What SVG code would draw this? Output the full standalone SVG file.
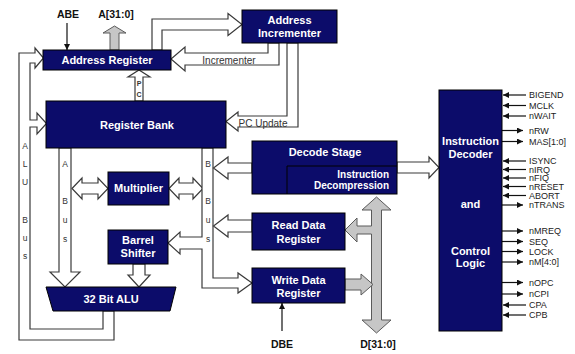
<svg xmlns="http://www.w3.org/2000/svg" width="575" height="354" viewBox="0 0 575 354">
  <style>
    .box { fill: #0c0c6a; stroke: #000; stroke-width: 1; }
    .t { font-family: "Liberation Sans", Arial, sans-serif; font-weight: bold; fill: #fff; text-anchor: middle; font-size: 11px; }
    .ts { font-size: 10px; }
    .hollow { fill: #fff; stroke: #3a3a3a; stroke-width: 1.2; }
    .data { fill: #c6c6c6; stroke: #5a5a5a; stroke-width: 1; }
    .sig { stroke: #111; stroke-width: 1.2; fill: none; }
    .lbl { font-family: "Liberation Sans", Arial, sans-serif; font-size: 9px; fill: #222; }
    .bus { font-family: "Liberation Sans", Arial, sans-serif; font-size: 8.5px; fill: #333; text-anchor: middle; }
    .pin { font-family: "Liberation Sans", Arial, sans-serif; font-size: 10.5px; font-weight: bold; fill: #111; text-anchor: middle; }
    .arl { font-family: "Liberation Sans", Arial, sans-serif; font-size: 10px; fill: #333; text-anchor: middle; }
  </style>
  <defs>
    <marker id="ah" viewBox="0 0 6 6" refX="6" refY="3" markerWidth="6" markerHeight="6" orient="auto" markerUnits="userSpaceOnUse">
      <path d="M0,0 L6,3 L0,6 z" fill="#111"/>
    </marker>
  </defs>
  <rect width="575" height="354" fill="#fff"/>

  <g id="connectors">
    <!-- address register to incrementer -->
    <polygon class="hollow" points="152,50 152,19 228,19 228,13.5 242,24.5 228,35.5 228,30 162,30 162,50"/>
    <!-- incrementer back to address register -->
    <polygon class="hollow" points="268,43 268,53 185,53 185,47 171,59 185,71 185,65 279,65 279,43"/>
    <text class="arl" x="229" y="63.5">Incrementer</text>
    <!-- PC update into register bank -->
    <polygon class="hollow" points="287,43 287,116 238,116 238,112 226,121.5 238,131 238,127 298,127 298,43"/>
    <text class="arl" x="263" y="126.5">PC Update</text>
    <!-- PC path -->
    <polygon class="hollow" points="135,101 135,77 128,77 139,70 150,77 143,77 143,101"/>
    <text class="bus" style="font-size:7px;font-weight:bold" x="139" y="86">P</text>
    <text class="bus" style="font-size:7px;font-weight:bold" x="139" y="96.5">C</text>
    <!-- address out -->
    <polygon class="data" points="110,50 110,33 103,33 114.5,26 126,33 119,33 119,50"/>
    <!-- ABE -->
    <line class="sig" x1="67" y1="23" x2="67" y2="50" marker-end="url(#ah)"/>
    <!-- ALU bus -->
    <polygon class="hollow" points="114,311 114,340 19,340 19,53 35,53 35,48 43.5,58 35,68 35,63 30,63 30,120 37,120 37,113 46.5,123.5 37,134 37,127 30,127 30,329 103,329 103,311"/>
    <text class="bus" x="25" y="148.5">A</text>
    <text class="bus" x="25" y="167">L</text>
    <text class="bus" x="25" y="185">U</text>
    <text class="bus" x="25" y="223">B</text>
    <text class="bus" x="25" y="241">u</text>
    <text class="bus" x="25" y="259">s</text>
    <!-- A bus -->
    <polygon class="hollow" points="59,148 59,272 50,272 65,287 80,272 71,272 71,148"/>
    <text class="bus" x="65" y="167">A</text>
    <text class="bus" x="65" y="204">B</text>
    <text class="bus" x="65" y="223">u</text>
    <text class="bus" x="65" y="242">s</text>
    <!-- multiplier links -->
    <polygon class="hollow" points="72,188.5 82,178 82,183 98,183 98,178 108,188.5 98,199 98,194 82,194 82,199"/>
    <polygon class="hollow" points="169,188.5 179,178 179,183 193,183 193,178 203,188.5 193,199 193,194 179,194 179,199"/>
    <!-- B bus with branches to barrel shifter and write data register -->
    <polygon class="hollow" points="202,148 202,237 180,237 180,232 168,243 180,254 180,249 202,249 202,288 238,288 238,293 252,283 238,273 238,278 213,278 213,148"/>
    <text class="bus" x="208" y="167">B</text>
    <text class="bus" x="208" y="204">B</text>
    <text class="bus" x="208" y="223">u</text>
    <text class="bus" x="208" y="242">s</text>
    <!-- decode stage and read data onto B bus -->
    <polygon class="hollow" points="252,163 228,163 228,157 213.5,168 228,179 228,173 252,173"/>
    <polygon class="hollow" points="252,220 228,220 228,215 213.5,226 228,237 228,232 252,232"/>
    <!-- barrel shifter into ALU -->
    <polygon class="hollow" points="133,264 133,275 128,275 139,287 150,275 145,275 145,264"/>
    <!-- decode stage to instruction decoder -->
    <polygon class="hollow" points="397,162 429,162 429,157 439,167.5 429,178 429,173 397,173"/>
    <!-- data bus -->
    <polygon class="data" points="376.5,197 391,210 381.5,210 381.5,320 391,320 376.5,333 362,320 371.5,320 371.5,234 357,234 357,242 345,230 357,218 357,226 371.5,226 371.5,210 362,210"/>
    <polygon class="data" points="345,279 361,279 361,274 373,284.5 361,295 361,290 345,290"/>
    <!-- DBE -->
    <line class="sig" x1="282" y1="331" x2="282" y2="303" marker-end="url(#ah)"/>
    <!-- control signals -->
    <g class="sig">
      <line x1="526" y1="95" x2="503" y2="95" marker-end="url(#ah)"/>
      <line x1="526" y1="105.5" x2="503" y2="105.5" marker-end="url(#ah)"/>
      <line x1="526" y1="116" x2="503" y2="116" marker-end="url(#ah)"/>
      <line x1="502" y1="130.5" x2="523" y2="130.5" marker-end="url(#ah)"/>
      <line x1="502" y1="141.5" x2="523" y2="141.5" marker-end="url(#ah)"/>
      <line x1="526" y1="161" x2="503" y2="161" marker-end="url(#ah)"/>
      <line x1="526" y1="169.5" x2="503" y2="169.5" marker-end="url(#ah)"/>
      <line x1="526" y1="178" x2="503" y2="178" marker-end="url(#ah)"/>
      <line x1="526" y1="186.5" x2="503" y2="186.5" marker-end="url(#ah)"/>
      <line x1="526" y1="195.5" x2="503" y2="195.5" marker-end="url(#ah)"/>
      <line x1="502" y1="205" x2="523" y2="205" marker-end="url(#ah)"/>
      <line x1="502" y1="231" x2="523" y2="231" marker-end="url(#ah)"/>
      <line x1="502" y1="241.5" x2="523" y2="241.5" marker-end="url(#ah)"/>
      <line x1="502" y1="251.5" x2="523" y2="251.5" marker-end="url(#ah)"/>
      <line x1="502" y1="262" x2="523" y2="262" marker-end="url(#ah)"/>
      <line x1="502" y1="282.5" x2="523" y2="282.5" marker-end="url(#ah)"/>
      <line x1="502" y1="294" x2="523" y2="294" marker-end="url(#ah)"/>
      <line x1="526" y1="305" x2="503" y2="305" marker-end="url(#ah)"/>
      <line x1="526" y1="315" x2="503" y2="315" marker-end="url(#ah)"/>
    </g>
  </g>

  <g id="pin-labels">
    <text class="pin" x="68" y="18">ABE</text>
    <text class="pin" x="116" y="18">A[31:0]</text>
    <text class="pin" x="282" y="348">DBE</text>
    <text class="pin" x="378" y="348">D[31:0]</text>
  </g>

  <g id="signal-labels" class="lbl">
    <text x="529" y="98.3">BIGEND</text>
    <text x="529" y="108.8">MCLK</text>
    <text x="529" y="119.3">nWAIT</text>
    <text x="529" y="133.8">nRW</text>
    <text x="529" y="144.8">MAS[1:0]</text>
    <text x="529" y="164.3">ISYNC</text>
    <text x="529" y="172.8">nIRQ</text>
    <text x="529" y="181.3">nFIQ</text>
    <text x="529" y="189.8">nRESET</text>
    <text x="529" y="198.8">ABORT</text>
    <text x="529" y="208.3">nTRANS</text>
    <text x="529" y="234.3">nMREQ</text>
    <text x="529" y="244.8">SEQ</text>
    <text x="529" y="254.8">LOCK</text>
    <text x="529" y="265.3">nM[4:0]</text>
    <text x="529" y="285.8">nOPC</text>
    <text x="529" y="297.3">nCPI</text>
    <text x="529" y="308.3">CPA</text>
    <text x="529" y="318.3">CPB</text>
  </g>

  <g id="address-register">
    <rect class="box" x="43" y="50" width="128" height="20"/>
    <text class="t" x="107" y="64">Address Register</text>
  </g>
  <g id="address-incrementer">
    <rect class="box" x="242" y="10" width="95" height="33"/>
    <text class="t" x="289.5" y="24">Address</text>
    <text class="t" x="289.5" y="37">Incrementer</text>
  </g>
  <g id="register-bank">
    <rect class="box" x="46" y="101" width="180" height="47"/>
    <text class="t" x="137" y="128.5">Register Bank</text>
  </g>
  <g id="multiplier">
    <rect class="box" x="108" y="172" width="61" height="33"/>
    <text class="t" x="138.5" y="191.5">Multiplier</text>
  </g>
  <g id="barrel-shifter">
    <rect class="box" x="108" y="230" width="60" height="34"/>
    <text class="t" x="138" y="244">Barrel</text>
    <text class="t" x="138" y="257">Shifter</text>
  </g>
  <g id="alu">
    <polygon class="box" points="46,287 176,287 170,311 53,311"/>
    <text class="t" x="111" y="303">32 Bit ALU</text>
  </g>
  <g id="decode-stage">
    <rect class="box" x="252" y="141" width="145" height="53"/>
    <polyline points="287,194 287,166 397,166" fill="none" stroke="#000" stroke-width="1"/>
    <text class="t" x="325" y="156">Decode Stage</text>
    <text class="t ts" x="389" y="177.5" style="text-anchor:end">Instruction</text>
    <text class="t ts" x="389" y="188.5" style="text-anchor:end">Decompression</text>
  </g>
  <g id="read-data-register">
    <rect class="box" x="252" y="213" width="93" height="37"/>
    <text class="t" x="298.5" y="228.5">Read Data</text>
    <text class="t" x="298.5" y="243">Register</text>
  </g>
  <g id="write-data-register">
    <rect class="box" x="252" y="268" width="93" height="35"/>
    <text class="t" x="298.5" y="283.5">Write Data</text>
    <text class="t" x="298.5" y="296.5">Register</text>
  </g>
  <g id="instruction-decoder">
    <rect class="box" x="439" y="90" width="63" height="241"/>
    <text class="t" x="470.5" y="145">Instruction</text>
    <text class="t" x="470.5" y="157.5">Decoder</text>
    <text class="t" x="470.5" y="208">and</text>
    <text class="t" x="470.5" y="254.5">Control</text>
    <text class="t" x="470.5" y="266.5">Logic</text>
  </g>
</svg>
